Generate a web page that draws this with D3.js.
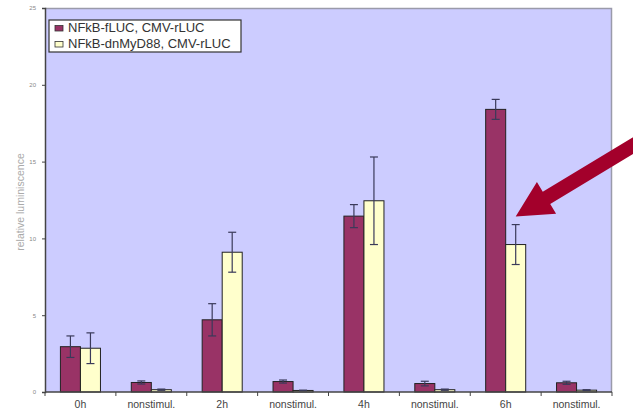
<!DOCTYPE html>
<html>
<head>
<meta charset="utf-8">
<script src="https://cdn.jsdelivr.net/npm/d3@7/dist/d3.min.js"></script>
<style>
  html, body { margin: 0; padding: 0; background: #fff; }
  svg { display: block; font-family: "Liberation Sans", Arial, sans-serif; }
</style>
</head>
<body>
<svg id="chart" width="633" height="412"></svg>
<script>
// Luciferase reporter readings per time point
const categories = ["0h", "nonstimul.", "2h", "nonstimul.", "4h", "nonstimul.", "6h", "nonstimul."];
const seriesNames = ["NFkB-fLUC, CMV-rLUC", "NFkB-dnMyD88, CMV-rLUC"];
const fLucValues = [2.95, 0.62, 4.7, 0.68, 11.45, 0.55, 18.4, 0.6];
const fLucErrors = [0.7, 0.1, 1.05, 0.1, 0.75, 0.15, 0.65, 0.1];
const dnValues = [2.85, 0.15, 9.1, 0.1, 12.45, 0.15, 9.6, 0.12];
const dnErrors = [1.0, 0.04, 1.3, 0.02, 2.85, 0.04, 1.3, 0.03];
const yTicks = [0, 5, 10, 15, 20, 25];

const colors = ["#993366", "#FFFFCC"];

const svg = d3.select("#chart");
const margin = { left: 45, right: 21, top: 8, bottom: 20 };
const W = 633, H = 412;
const plotW = W - margin.left - margin.right;
const plotH = H - margin.top - margin.bottom;

const g = svg.append("g").attr("transform", `translate(${margin.left},${margin.top})`);

const x0 = d3.scaleBand().domain(d3.range(categories.length)).range([0, plotW]).paddingInner(0).paddingOuter(0);
const x1 = d3.scaleBand().domain([0, 1]).range([0, x0.bandwidth()]).paddingOuter(0.77).paddingInner(0);
const y = d3.scaleLinear().domain([0, 25]).range([plotH, 0]);

// plot area background with a light frame on top and right
g.append("rect").attr("x", 0).attr("y", 0).attr("width", plotW).attr("height", plotH)
  .attr("fill", "#CCCCFF");
g.append("path")
  .attr("d", `M0,0.5H${plotW - 0.5}V${plotH}`)
  .attr("fill", "none").attr("stroke", "#9a9aaa").attr("stroke-width", 1.5);

const series = [
  { values: fLucValues, errors: fLucErrors },
  { values: dnValues, errors: dnErrors }
];

series.forEach((s, si) => {
  const grp = g.append("g");
  grp.selectAll("rect").data(s.values).join("rect")
    .attr("x", (d, i) => x0(i) + x1(si))
    .attr("y", d => y(d))
    .attr("width", x1.bandwidth())
    .attr("height", d => plotH - y(d))
    .attr("fill", colors[si])
    .attr("stroke", "#222")
    .attr("stroke-width", 1);

  // error bars
  const eb = g.append("g").attr("stroke", "#3a3a5a").attr("stroke-width", 1.2).attr("fill", "none");
  s.values.forEach((v, i) => {
    const cx = x0(i) + x1(si) + x1.bandwidth() / 2;
    const e = s.errors[i];
    const top = y(v + e), bot = y(Math.max(0, v - e));
    eb.append("line").attr("x1", cx).attr("x2", cx).attr("y1", top).attr("y2", bot);
    eb.append("line").attr("x1", cx - 4).attr("x2", cx + 4).attr("y1", top).attr("y2", top);
    eb.append("line").attr("x1", cx - 4).attr("x2", cx + 4).attr("y1", bot).attr("y2", bot);
  });
});

// y axis
const yAxis = g.append("g")
  .call(d3.axisLeft(y).tickValues(yTicks).tickSize(3).tickPadding(6).tickFormat(d3.format("d")));
yAxis.select(".domain").attr("stroke", "#444").attr("stroke-width", 1.5);
yAxis.selectAll(".tick line").attr("stroke", "#444");
yAxis.selectAll(".tick text").attr("fill", "#888").style("font-size", "6px");

// x axis with ticks at group boundaries
const xAxisG = g.append("g").attr("transform", `translate(0,${plotH})`);
xAxisG.append("line").attr("x1", 0).attr("x2", plotW).attr("stroke", "#444").attr("stroke-width", 1.5);
xAxisG.selectAll(".xt").data(d3.range(categories.length + 1)).join("line")
  .attr("x1", d => d * x0.step()).attr("x2", d => d * x0.step())
  .attr("y1", 0).attr("y2", 4).attr("stroke", "#444");
xAxisG.selectAll(".xl").data(categories).join("text")
  .attr("x", (d, i) => x0(i) + x0.bandwidth() / 2)
  .attr("y", 15.5)
  .attr("text-anchor", "middle")
  .attr("fill", "#444")
  .style("font-size", "10.5px")
  .text(d => d);

// y axis title
svg.append("text")
  .attr("transform", `translate(24,202) rotate(-90)`)
  .attr("text-anchor", "middle")
  .attr("fill", "#aaa")
  .style("font-size", "10.5px")
  .text("relative luminiscence");

// legend
const lg = svg.append("g").attr("transform", "translate(49,20)");
lg.append("rect").attr("width", 192).attr("height", 32).attr("fill", "#fff")
  .attr("stroke", "#333").attr("stroke-width", 1.2);
seriesNames.forEach((n, i) => {
  lg.append("rect").attr("x", 6).attr("y", 5.5 + i * 16).attr("width", 8).attr("height", 5.5)
    .attr("fill", colors[i]).attr("stroke", "#333").attr("stroke-width", 0.8);
  lg.append("text").attr("x", 19).attr("y", 12 + i * 16)
    .attr("fill", "#333").style("font-size", "13px").text(n);
});

// pointer arrow toward the 6h dnMyD88 bar (page coordinates)
const tip = [
  margin.left + x0(6) + x1(1) + x1.bandwidth() / 2,
  margin.top + y(dnErrors[6] + dnValues[6]) - 8
];
const tail = [662, 128];
const ang = Math.atan2(tail[1] - tip[1], tail[0] - tip[0]);
const headLen = 36, headHalf = 18.5, shaft = 7.2;
const ux = Math.cos(ang), uy = Math.sin(ang), nx = -uy, ny = ux;
const hb = [tip[0] + ux * headLen, tip[1] + uy * headLen];
const pts = [
  tip,
  [hb[0] + nx * headHalf, hb[1] + ny * headHalf],
  [hb[0] + nx * shaft, hb[1] + ny * shaft],
  [tail[0] + nx * shaft, tail[1] + ny * shaft],
  [tail[0] - nx * shaft, tail[1] - ny * shaft],
  [hb[0] - nx * shaft, hb[1] - ny * shaft],
  [hb[0] - nx * headHalf, hb[1] - ny * headHalf]
];
svg.append("path").attr("d", d3.line()(pts) + "Z").attr("fill", "#A3002B");
</script>
</body>
</html>
